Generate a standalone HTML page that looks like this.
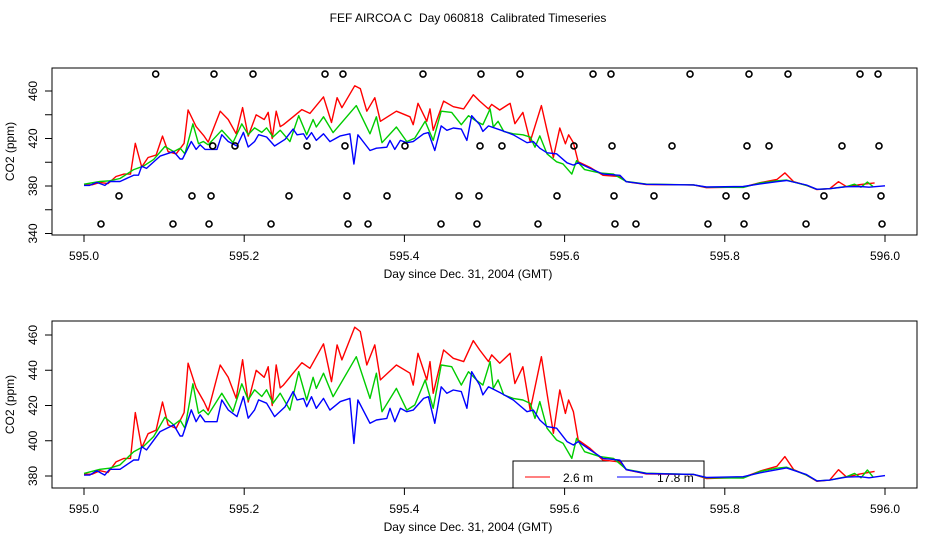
<!DOCTYPE html>
<html><head><meta charset="utf-8"><style>
body{margin:0;background:#fff}
svg{display:block;font-family:"Liberation Sans",sans-serif}
</style></head><body>
<svg id="chart" width="936" height="540" viewBox="0 0 936 540">
<text x="468" y="22" text-anchor="middle" font-size="12" style="white-space:pre" xml:space="preserve">FEF AIRCOA C  Day 060818  Calibrated Timeseries</text>
</svg>
<script>
// ---- data ----
const redT=[0,.01,.02,.03,.04,.05,.058,.064,.072,.08,.09,.098,.105,.115,.125,.13,.14,.15,.155,.17,.18,.19,.198,.205,.215,.225,.23,.235,.24,.245,.249,.261,.272,.282,.299,.309,.316,.322,.338,.345,.353,.363,.37,.39,.407,.411,.417,.428,.432,.436,.449,.461,.474,.486,.494,.505,.509,.519,.532,.538,.548,.557,.571,.578,.586,.594,.601,.605,.611,.617,.632,.648,.669,.677,.702,.761,.777,.823,.844,.865,.875,.886,.902,.915,.931,.942,.952,.969,.987];
const redV=[381,381,383,382,388,390,390,416,396,404,406,422,409,407,416,444,430,422,417,443,436,424,446,422,440,436,442,420,443,430,431.6,438.3,444.3,441.1,455,433.5,454.4,445.9,464.4,462,443,454.4,434.5,443,438.3,431.6,449.6,434.5,444.9,426.9,451.5,446.8,444.9,456.8,451.5,444.9,448.7,444,449.6,432.5,442,417.4,447.7,426.9,404.2,428.8,415.5,423.1,416.5,400.4,395.6,389,388,383.6,381.2,380.9,378.6,379.2,382.8,385.5,391,383.6,380.5,377,377.7,383.6,379.4,381.2,382.6];
const greenT=[0,.02,.032,.045,.062,.074,.087,.101,.112,.12,.126,.136,.143,.149,.155,.172,.186,.197,.205,.213,.222,.228,.236,.245,.257,.268,.278,.286,.29,.299,.311,.34,.357,.365,.372,.39,.403,.413,.426,.436,.446,.459,.471,.48,.49,.498,.507,.511,.517,.524,.536,.548,.557,.563,.569,.578,.59,.598,.609,.615,.625,.644,.661,.677,.702,.761,.777,.823,.844,.865,.877,.902,.915,.931,.952,.962,.97,.978,.985];
const greenV=[381.5,383.8,384.4,386.3,393.8,396.7,402.4,413.3,409,411.8,407.1,432.3,415.6,417.5,414.7,427,416.6,432.3,423.2,428.9,425.1,428.9,421.3,427,417.4,439.2,423.1,436,429.7,438.3,425,447.7,424,438.3,416.5,429.7,417.4,420.3,434.5,418.4,443,442,431.6,439.2,434.5,431.6,444.9,429.7,434.5,426,424,423.1,421.2,412.7,422.2,407.1,400.4,398.6,390,401.4,393.8,391,390,383.8,381.6,380.9,379,378.8,382.6,384.4,385,380.5,377.2,377.7,379.6,381.5,379,383.4,379.5];
const blueT=[0,.007,.016,.026,.032,.045,.062,.068,.072,.078,.095,.112,.12,.123,.134,.14,.145,.151,.166,.172,.18,.191,.199,.205,.213,.218,.228,.238,.251,.261,.266,.274,.278,.284,.29,.299,.307,.32,.332,.337,.342,.357,.365,.378,.382,.388,.395,.403,.411,.424,.43,.438,.446,.453,.461,.471,.478,.484,.494,.498,.505,.521,.536,.553,.561,.569,.578,.59,.603,.611,.617,.632,.648,.669,.677,.702,.761,.777,.823,.844,.865,.877,.902,.915,.931,.952,.969,.98,1.0];
const blueV=[380.5,380.5,383,380.5,383.8,383.8,389.1,389.1,396.7,394.8,405.2,409,402.7,402.7,417.5,410.8,414.7,410.8,410.8,423.2,417.5,413.7,425.1,412.8,417.5,423.2,421.3,413.7,419.3,427.9,423.1,424,419.3,425,418.4,424,417.4,422.2,424,398.5,423.1,409.9,411.8,412.7,418.4,410.8,418.4,416.5,417.4,424,425,409.9,430.6,426.9,428.8,427.9,418.4,439.2,431.6,426,430.6,426.9,423.1,416.5,417.4,411.8,408,407.1,399.5,397.6,399.5,394.8,390,389,383.6,381.4,380.9,379.2,379.6,381.8,383.6,384.6,380.8,377.2,377.7,379.4,379.6,379,380.2];
const flagT1=[.0895,.1623,.211,.3009,.3233,.4232,.4956,.5443,.6355,.6579,.7566,.8302,.8789,.9688,.9913];
const flagT2=[.1607,.1885,.2784,.3258,.4007,.4944,.5218,.6117,.6592,.7341,.8277,.8552,.9463,.9925];
const flagT3=[.0437,.1348,.1586,.2559,.3283,.3783,.4682,.4931,.5905,.6617,.7116,.8015,.8265,.9238,.995];
const flagT4=[.0212,.1111,.1561,.2335,.3296,.3546,.4457,.4906,.5668,.6629,.6891,.779,.824,.9014,.9963];
const flagLevels=[474.3,413.7,371.6,348];
const xTicks=[595.0,595.2,595.4,595.6,595.8,596.0];
const xTickLabels=["595.0","595.2","595.4","595.6","595.8","596.0"];
const topYTicks=[340,360,380,400,420,440,460];
const topYLabels=["340","","380","","420","","460"];
const botYTicks=[380,400,420,440,460];
const botYLabels=["380","400","420","440","460"];
const legendLabels=["2.6 m","17.8 m"];

// ---- drawing ----
const svg=document.getElementById('chart');
const NS='http://www.w3.org/2000/svg';
function mk(tag,attrs,parent){const e=document.createElementNS(NS,tag);for(const k in attrs)e.setAttribute(k,attrs[k]);(parent||svg).appendChild(e);return e;}
const X=t=>84+(t-595)*801;
const panels=[
 {name:'top',top:68,bottom:235,Y:v=>186-(v-380)*1.1875,yt:topYTicks,yl:topYLabels},
 {name:'bottom',top:321,bottom:488,Y:v=>476-(v-380)*1.7625,yt:botYTicks,yl:botYLabels}
];
panels.forEach((p,pi)=>{
 const g=mk('g',{});
 
 
 const box=mk('rect',{x:52,y:p.top,width:865,height:p.bottom-p.top,fill:'none',stroke:'#000','stroke-width':1},g);
 
 
 const ax=mk('g',{},g);
 
 
 xTicks.forEach((t,i)=>{
  mk('line',{x1:X(t),x2:X(t),y1:p.bottom,y2:p.bottom+7,stroke:'#000'},ax);
  const tx=mk('text',{x:X(t),y:p.bottom+25,'text-anchor':'middle','font-size':12},ax);
  tx.textContent=xTickLabels[i];
  
  
 });
 const xt=mk('text',{x:468,y:p.bottom+43,'text-anchor':'middle','font-size':12},g);
 xt.textContent='Day since Dec. 31, 2004 (GMT)';
 
 
 const ay=mk('g',{},g);
 
 
 p.yt.forEach((v,i)=>{
  const y=p.Y(v);
  mk('line',{x1:45,x2:52,y1:y,y2:y,stroke:'#000'},ay);
  if(p.yl[i]){
   const tx=mk('text',{x:0,y:0,'text-anchor':'middle','font-size':12,transform:`translate(37,${y}) rotate(-90)`},ay);
   tx.textContent=p.yl[i];
   
   
  }
 });
 const cy=(p.top+p.bottom)/2;
 const yt=mk('text',{x:0,y:0,'text-anchor':'middle','font-size':12,transform:`translate(14,${cy}) rotate(-90)`},g);
 yt.textContent='CO2 (ppm)';
 
 
 if(pi===1){
  const lg=mk('g',{},g);
  
  
  mk('rect',{x:513,y:461,width:191,height:27,fill:'none',stroke:'#000'},lg);
  mk('line',{x1:525,x2:550,y1:477,y2:477,stroke:'#f00'},lg);
  const l1=mk('text',{x:563,y:482,'font-size':12},lg);l1.textContent=legendLabels[0];
  
  
  mk('line',{x1:617,x2:643,y1:477,y2:477,stroke:'#00f'},lg);
  const l2=mk('text',{x:657,y:482,'font-size':12},lg);l2.textContent=legendLabels[1];
  
  
 }
 const series=[['red',redT,redV,'#f00'],['green',greenT,greenV,'#0c0'],['blue',blueT,blueV,'#00f']];
 series.forEach(([n,T,V,c])=>{
  const d=T.map((t,i)=>(i?'L':'M')+X(595+t).toFixed(1)+','+p.Y(V[i]).toFixed(1)).join(' ');
  const pa=mk('path',{d:d,fill:'none',stroke:c,'stroke-width':1.4,'stroke-linejoin':'round'},g);
  
  
 });
 if(pi===0){
  [flagT1,flagT2,flagT3,flagT4].forEach((arr,ri)=>{
   arr.forEach(t=>{
    const c=mk('circle',{cx:X(595+t),cy:p.Y(flagLevels[ri]),r:3,fill:'none',stroke:'#000','stroke-width':1.6},g);
    
    
   });
  });
 }
});
</script>
</body></html>
